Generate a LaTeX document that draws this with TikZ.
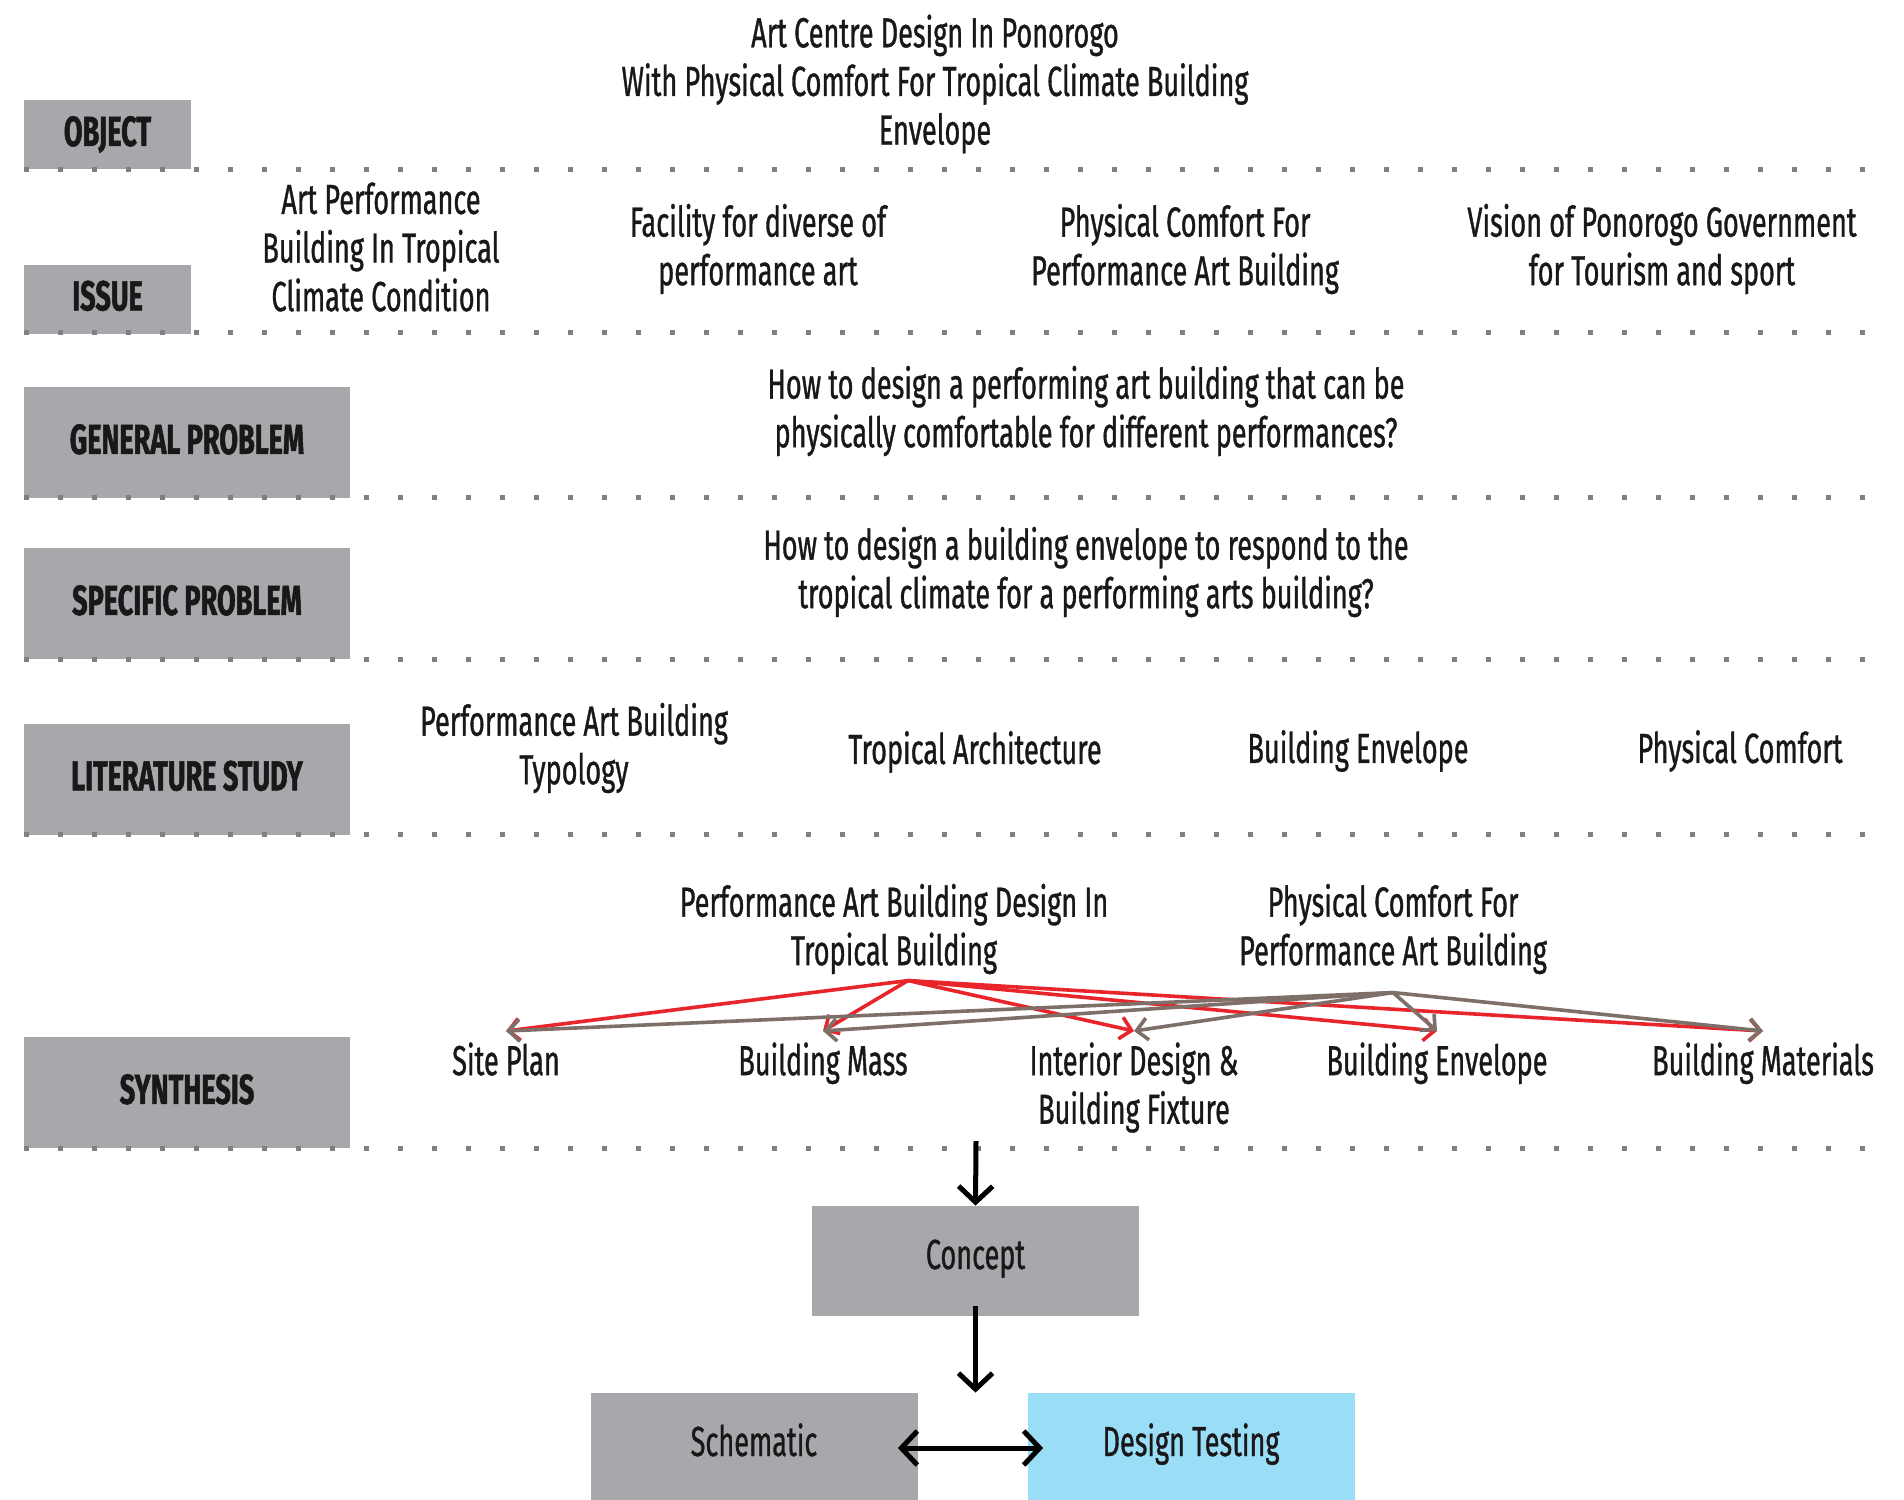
\documentclass[tikz,border=0pt]{standalone}
\usepackage{fontspec}
\setmainfont{Fira Sans}[
  FakeStretch=0.645,
  UprightFeatures={FakeBold=0.8},
  BoldFeatures={FakeBold=1.2}]
\usetikzlibrary{arrows.meta}
\definecolor{boxgray}{HTML}{A7A8AB}
\definecolor{testblue}{HTML}{9ADDF6}
\definecolor{dotgray}{HTML}{808080}
\definecolor{linkred}{HTML}{E8252B}
\definecolor{linkbrown}{HTML}{7E6F69}
\definecolor{ink}{HTML}{1A1718}

\begin{document}
\begin{tikzpicture}[
  x=0.5pt, y=-0.5pt,
  every node/.style={
    text=ink,
    inner sep=0pt,
    align=center,
    font=\fontsize{21}{24.3}\selectfont
  },
  label box/.style={fill=boxgray, minimum width=163pt, minimum height=55.5pt,
    text height=14pt, text depth=2.6pt,
    font=\fontsize{21}{24.3}\selectfont\bfseries},
  small box/.style={label box, minimum width=83.5pt, minimum height=34.5pt},
  step box/.style={fill=boxgray, minimum width=163.5pt, minimum height=55pt,
    text height=12pt, text depth=4pt},
  item/.style={anchor=north, inner ysep=5.5pt},
  dotline/.style={draw=dotgray, line width=2.5pt, dash pattern=on 2.5pt off 14.5pt},
  >={Straight Barb[length=8pt,width=17pt]}, % open chevron tips
  link/.style={->, line width=1.8pt, >={Straight Barb[length=5.5pt,width=11pt]}},
  flow/.style={->, line width=2.5pt}
  ]
\path[use as bounding box, clip] (0,0) rectangle (1904,1499);
\fill[white] (0,0) rectangle (1904,1499);

% row labels
\node[small box] (object) at (107.5,134.5) {OBJECT};
\node[small box] (issue) at (107.5,299) {ISSUE};
\node[label box] (general) at (187,442.5) {GENERAL PROBLEM};
\node[label box] (specific) at (187,603.5) {SPECIFIC PROBLEM};
\node[label box] (literature) at (187,779) {LITERATURE STUDY};
\node[label box] (synthesis) at (187,1092.5) {SYNTHESIS};

% separators
\foreach \y in {169,332,497,659,834,1148}
  \draw[dotline] (24,\y) -- (1882,\y);

% object
\node (title) at (935,84) {Art Centre Design In Ponorogo\\With Physical Comfort For Tropical Climate Building\\Envelope};

% issues
\node (issueA) at (381,247) {Art Performance\\Building In Tropical\\Climate Condition};
\node (issueB) at (758,249) {Facility for diverse of\\performance art};
\node (issueC) at (1185,249) {Physical Comfort For\\Performance Art Building};
\node (issueD) at (1662,249) {Vision of Ponorogo Government\\for Tourism and sport};

% problems
\node (generalq) at (1086,411) {How to design a performing art building that can be\\physically comfortable for different performances?};
\node (specificq) at (1086,572) {How to design a building envelope to respond to the\\tropical climate for a performing arts building?};

% literature
\node (litA) at (574,748) {Performance Art Building\\Typology};
\node (litB) at (975,752) {Tropical Architecture};
\node (litC) at (1358,751) {Building Envelope};
\node (litD) at (1740,751) {Physical Comfort};

% synthesis
\node (tropic) at (894,929) {Performance Art Building Design In\\Tropical Building};
\node (comfort) at (1393,929) {Physical Comfort For\\Performance Art Building};
\node[item] (site) at (506,1031) {Site Plan};
\node[item] (mass) at (823,1031) {Building Mass};
\node[item] (interior) at (1134,1031) {Interior Design \&\\Building Fixture};
\node[item] (envelope) at (1437,1031) {Building Envelope};
\node[item] (materials) at (1763,1031) {Building Materials};

\foreach \t in {site,mass,interior,envelope,materials}
  \draw[link, linkred] ([xshift=7pt,yshift=-3pt]tropic.south) -- (\t.north);
\foreach \t in {site,mass,interior,envelope,materials}
  \draw[link, linkbrown] ([yshift=-9pt]comfort.south) -- (\t.north);

% design steps
\node[step box] (concept) at (975.5,1261) {Concept};
\node[step box] (schematic) at (754,1448) {Schematic};
\node[step box, fill=testblue] (testing) at (1191,1448) {Design Testing};

\coordinate (synth out) at (976,1141);
\draw[flow] (synth out) -- (concept.north);
\draw[flow] ([yshift=5pt]concept.south) -- (concept.south |- schematic.north);
\draw[flow, <->, shorten <=-10pt, shorten >=-8pt] (schematic.east) -- (testing.west);
\end{tikzpicture}
\end{document}
